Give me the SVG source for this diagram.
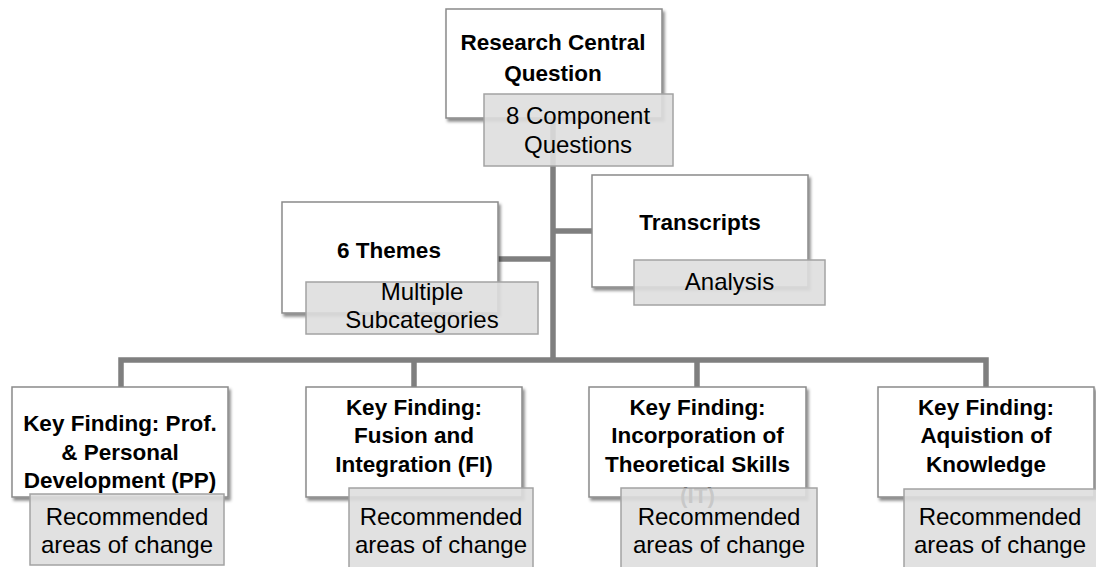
<svg xmlns="http://www.w3.org/2000/svg" width="1096" height="567" viewBox="0 0 1096 567">
  <defs>
    <filter id="shadow" x="-10%" y="-10%" width="125%" height="130%">
      <feDropShadow dx="2" dy="3" stdDeviation="1.6" flood-color="#000" flood-opacity="0.45"/>
    </filter>
    <style>
      .main { fill: #ffffff; stroke: #8a8a8a; stroke-width: 1.5; filter: url(#shadow); }
      .sub { fill: #dedede; fill-opacity: 0.9; stroke: #a3a3a3; stroke-width: 1.5; }
      .link { fill: none; stroke: #7f7f7f; stroke-width: 5.5; }
      text { font-family: "Liberation Sans", Arial, sans-serif; fill: #000; text-anchor: middle; }
      .b { font-weight: bold; font-size: 22.5px; }
      .r { font-size: 24px; }
    </style>
  </defs>
  <rect width="1096" height="567" fill="#ffffff"/>

  <!-- connectors -->
  <g id="connectors">
    <path class="link" d="M553 118 V360"/>
    <path class="link" d="M498 259 H553"/>
    <path class="link" d="M553 231 H592"/>
    <path class="link" d="M121 387 V360 H986 V387"/>
    <path class="link" d="M414 360 V387"/>
    <path class="link" d="M697 360 V387"/>
  </g>

  <!-- top: central question -->
  <g id="central-question">
    <rect class="main" x="446" y="9" width="216" height="109"/>
    <text class="b" x="553" y="50">Research Central</text>
    <text class="b" x="553" y="81">Question</text>
    <rect class="sub" x="484" y="94" width="189" height="72"/>
    <text class="r" x="578" y="124">8 Component</text>
    <text class="r" x="578" y="153">Questions</text>
  </g>

  <g id="themes">
    <rect class="main" x="282" y="202" width="216" height="111"/>
    <text class="b" x="389" y="258">6 Themes</text>
    <rect class="sub" x="306" y="282" width="232" height="52"/>
    <text class="r" x="422" y="300">Multiple</text>
    <text class="r" x="422" y="328">Subcategories</text>
  </g>

  <g id="transcripts">
    <rect class="main" x="592" y="175" width="216" height="112"/>
    <text class="b" x="700" y="230">Transcripts</text>
    <rect class="sub" x="634" y="260" width="191" height="45"/>
    <text class="r" x="729.5" y="290">Analysis</text>
  </g>

  <!-- key findings -->
  <g id="finding-pp">
    <rect class="main" x="12" y="387" width="216" height="110"/>
    <text class="b" x="120" y="431">Key Finding: Prof.</text>
    <text class="b" x="120" y="460">&amp; Personal</text>
    <text class="b" x="120" y="488">Development (PP)</text>
    <rect class="sub" x="30" y="494" width="194" height="71"/>
    <text class="r" x="127" y="525">Recommended</text>
    <text class="r" x="127" y="553">areas of change</text>
  </g>

  <g id="finding-fi">
    <rect class="main" x="306" y="387" width="216" height="110"/>
    <text class="b" x="414" y="415">Key Finding:</text>
    <text class="b" x="414" y="443">Fusion and</text>
    <text class="b" x="414" y="472">Integration (FI)</text>
    <rect class="sub" x="349" y="488" width="184" height="85"/>
    <text class="r" x="441" y="525">Recommended</text>
    <text class="r" x="441" y="553">areas of change</text>
  </g>

  <g id="finding-it">
    <rect class="main" x="589" y="387" width="217" height="110"/>
    <text class="b" x="697.5" y="415">Key Finding:</text>
    <text class="b" x="697.5" y="443">Incorporation of</text>
    <text class="b" x="697.5" y="472">Theoretical Skills</text>
    <!-- last line runs past the box and sits under the translucent note -->
    <text class="b" x="697.5" y="503">(IT)</text>
    <rect class="sub" x="621" y="488" width="196" height="85"/>
    <text class="r" x="719" y="525">Recommended</text>
    <text class="r" x="719" y="553">areas of change</text>
  </g>

  <g id="finding-ak">
    <rect class="main" x="878" y="387" width="216" height="110"/>
    <text class="b" x="986" y="415">Key Finding:</text>
    <text class="b" x="986" y="443">Aquistion of</text>
    <text class="b" x="986" y="472">Knowledge</text>
    <rect class="sub" x="904" y="489" width="196" height="85"/>
    <text class="r" x="1000" y="525">Recommended</text>
    <text class="r" x="1000" y="553">areas of change</text>
  </g>
</svg>
